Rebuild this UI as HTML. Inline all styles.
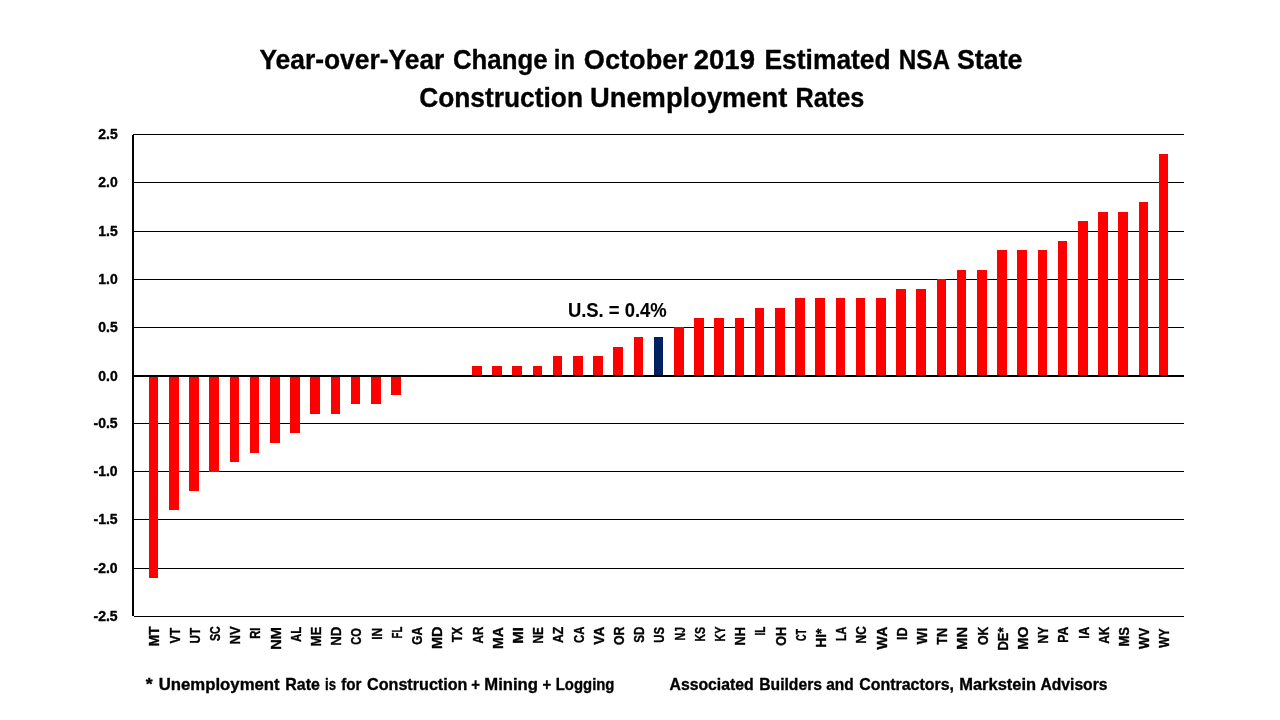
<!DOCTYPE html>
<html><head><meta charset="utf-8"><title>Year-over-Year Change in October 2019 Estimated NSA State Construction Unemployment Rates</title>
<style>
html,body{margin:0;padding:0;background:#fff;}
body{width:1280px;height:720px;overflow:hidden;font-family:"Liberation Sans",sans-serif;}
svg{display:block;}
svg text{font-family:"Liberation Sans",sans-serif;font-weight:bold;stroke:#000;stroke-width:0.35px;stroke-linejoin:round;}
</style></head>
<body>
<svg width="1280" height="720" viewBox="0 0 1280 720">
<defs><mask id="m"><rect width="1280" height="720" fill="#fff"/></mask></defs>
<rect width="1280" height="720" fill="#fff"/>
<g id="grid">
<rect x="133" y="134" width="1051" height="1" fill="#000"/>
<rect x="134" y="182" width="1050" height="1" fill="#000"/>
<rect x="134" y="231" width="1050" height="1" fill="#000"/>
<rect x="134" y="279" width="1050" height="1" fill="#000"/>
<rect x="134" y="327" width="1050" height="1" fill="#000"/>
<rect x="134" y="423" width="1050" height="1" fill="#000"/>
<rect x="134" y="471" width="1050" height="1" fill="#000"/>
<rect x="134" y="519" width="1050" height="1" fill="#000"/>
<rect x="134" y="568" width="1050" height="1" fill="#000"/>
<rect x="134" y="616" width="1050" height="1" fill="#000"/>
</g>
<g id="bars">
<rect x="149" y="376" width="9" height="202" fill="#ff0000"/>
<rect x="169" y="376" width="10" height="134" fill="#ff0000"/>
<rect x="189" y="376" width="10" height="115" fill="#ff0000"/>
<rect x="209" y="376" width="10" height="96" fill="#ff0000"/>
<rect x="230" y="376" width="9" height="86" fill="#ff0000"/>
<rect x="250" y="376" width="9" height="77" fill="#ff0000"/>
<rect x="270" y="376" width="10" height="67" fill="#ff0000"/>
<rect x="290" y="376" width="10" height="57" fill="#ff0000"/>
<rect x="310" y="376" width="10" height="38" fill="#ff0000"/>
<rect x="331" y="376" width="9" height="38" fill="#ff0000"/>
<rect x="351" y="376" width="9" height="28" fill="#ff0000"/>
<rect x="371" y="376" width="10" height="28" fill="#ff0000"/>
<rect x="391" y="376" width="10" height="19" fill="#ff0000"/>
<rect x="472" y="366" width="10" height="10" fill="#ff0000"/>
<rect x="492" y="366" width="10" height="10" fill="#ff0000"/>
<rect x="512" y="366" width="10" height="10" fill="#ff0000"/>
<rect x="533" y="366" width="9" height="10" fill="#ff0000"/>
<rect x="553" y="356" width="9" height="20" fill="#ff0000"/>
<rect x="573" y="356" width="10" height="20" fill="#ff0000"/>
<rect x="593" y="356" width="10" height="20" fill="#ff0000"/>
<rect x="613" y="347" width="10" height="29" fill="#ff0000"/>
<rect x="634" y="337" width="9" height="39" fill="#ff0000"/>
<rect x="654" y="337" width="9" height="39" fill="#002060"/>
<rect x="674" y="327" width="10" height="49" fill="#ff0000"/>
<rect x="694" y="318" width="10" height="58" fill="#ff0000"/>
<rect x="714" y="318" width="10" height="58" fill="#ff0000"/>
<rect x="735" y="318" width="9" height="58" fill="#ff0000"/>
<rect x="755" y="308" width="9" height="68" fill="#ff0000"/>
<rect x="775" y="308" width="10" height="68" fill="#ff0000"/>
<rect x="795" y="298" width="10" height="78" fill="#ff0000"/>
<rect x="815" y="298" width="10" height="78" fill="#ff0000"/>
<rect x="836" y="298" width="9" height="78" fill="#ff0000"/>
<rect x="856" y="298" width="9" height="78" fill="#ff0000"/>
<rect x="876" y="298" width="10" height="78" fill="#ff0000"/>
<rect x="896" y="289" width="10" height="87" fill="#ff0000"/>
<rect x="916" y="289" width="10" height="87" fill="#ff0000"/>
<rect x="937" y="279" width="9" height="97" fill="#ff0000"/>
<rect x="957" y="270" width="9" height="106" fill="#ff0000"/>
<rect x="977" y="270" width="10" height="106" fill="#ff0000"/>
<rect x="997" y="250" width="10" height="126" fill="#ff0000"/>
<rect x="1017" y="250" width="10" height="126" fill="#ff0000"/>
<rect x="1038" y="250" width="9" height="126" fill="#ff0000"/>
<rect x="1058" y="241" width="9" height="135" fill="#ff0000"/>
<rect x="1078" y="221" width="10" height="155" fill="#ff0000"/>
<rect x="1098" y="212" width="10" height="164" fill="#ff0000"/>
<rect x="1118" y="212" width="10" height="164" fill="#ff0000"/>
<rect x="1139" y="202" width="9" height="174" fill="#ff0000"/>
<rect x="1159" y="154" width="9" height="222" fill="#ff0000"/>
</g>
<g id="axes">
<rect x="132" y="135" width="2" height="481" fill="#000"/>
<rect x="133" y="375" width="1051" height="2" fill="#000"/>
</g>
<g id="labels" mask="url(#m)">
<text transform="translate(259.40 69.00) scale(0.9447 1)" font-size="27.97">Year-over-Year</text>
<text transform="translate(453.00 69.00) scale(0.9218 1)" font-size="27.97">Change</text>
<text transform="translate(553.75 69.00) scale(0.8536 1)" font-size="27.97">in</text>
<text transform="translate(583.75 69.00) scale(0.9719 1)" font-size="27.97">October</text>
<text transform="translate(693.75 69.00) scale(0.9842 1)" font-size="27.97">2019</text>
<text transform="translate(764.50 69.00) scale(0.9443 1)" font-size="27.97">Estimated</text>
<text transform="translate(898.75 69.00) scale(0.8684 1)" font-size="27.97">NSA</text>
<text transform="translate(957.00 69.00) scale(0.9578 1)" font-size="27.97">State</text>
<text transform="translate(419.20 107.00) scale(0.9415 1)" font-size="27.97">Construction</text>
<text transform="translate(590.00 107.00) scale(0.9773 1)" font-size="27.97">Unemployment</text>
<text transform="translate(795.50 107.00) scale(0.9020 1)" font-size="27.97">Rates</text>
<text transform="translate(145.70 689.75) scale(1.0851 1)" font-size="16.30">*</text>
<text transform="translate(158.75 689.75) scale(1.0272 1)" font-size="16.30">Unemployment</text>
<text transform="translate(285.30 689.75) scale(0.9779 1)" font-size="16.30">Rate</text>
<text transform="translate(325.00 689.75) scale(0.8080 1)" font-size="16.30">is</text>
<text transform="translate(341.20 689.75) scale(0.9326 1)" font-size="16.30">for</text>
<text transform="translate(367.00 689.75) scale(0.9910 1)" font-size="16.30">Construction</text>
<text transform="translate(471.25 689.75) scale(0.9174 1)" font-size="16.30">+</text>
<text transform="translate(484.25 689.75) scale(1.0238 1)" font-size="16.30">Mining</text>
<text transform="translate(542.50 689.75) scale(0.9174 1)" font-size="16.30">+</text>
<text transform="translate(555.75 689.75) scale(0.9134 1)" font-size="16.30">Logging</text>
<text transform="translate(669.50 689.75) scale(0.9686 1)" font-size="16.30">Associated</text>
<text transform="translate(759.25 689.75) scale(0.9622 1)" font-size="16.30">Builders</text>
<text transform="translate(826.25 689.75) scale(0.9476 1)" font-size="16.30">and</text>
<text transform="translate(859.25 689.75) scale(0.9775 1)" font-size="16.30">Contractors,</text>
<text transform="translate(959.25 689.75) scale(1.0113 1)" font-size="16.30">Markstein</text>
<text transform="translate(1040.50 689.75) scale(0.9601 1)" font-size="16.30">Advisors</text>
<text transform="translate(567.90 317.00) scale(0.9151 1)" font-size="20.14" style="stroke-width:0.1px">U.S. = 0.4%</text>
<text transform="translate(98.30 139.25) scale(1.0072 1)" font-size="13.86">2.5</text>
<text transform="translate(98.30 187.25) scale(1.0072 1)" font-size="13.86">2.0</text>
<text transform="translate(98.30 236.25) scale(1.0072 1)" font-size="13.86">1.5</text>
<text transform="translate(98.30 284.25) scale(1.0072 1)" font-size="13.86">1.0</text>
<text transform="translate(98.30 332.25) scale(1.0072 1)" font-size="13.86">0.5</text>
<text transform="translate(98.30 380.75) scale(1.0072 1)" font-size="13.86">0.0</text>
<text transform="translate(93.50 428.25) scale(1.0124 1)" font-size="13.86">-0.5</text>
<text transform="translate(93.50 476.25) scale(1.0124 1)" font-size="13.86">-1.0</text>
<text transform="translate(93.50 524.25) scale(1.0124 1)" font-size="13.86">-1.5</text>
<text transform="translate(93.50 573.25) scale(1.0124 1)" font-size="13.86">-2.0</text>
<text transform="translate(93.50 621.25) scale(1.0124 1)" font-size="13.86">-2.5</text>
</g>
<g id="xlabels" mask="url(#m)">
<text transform="translate(159.30 646.60) rotate(-90) scale(0.9717 1)" font-size="14.49">MT</text>
<text transform="translate(179.50 643.40) rotate(-90) scale(0.8409 1)" font-size="14.49">VT</text>
<text transform="translate(199.70 643.40) rotate(-90) scale(0.8063 1)" font-size="14.49">UT</text>
<text transform="translate(219.90 641.10) rotate(-90) scale(0.7372 1)" font-size="14.49">SC</text>
<text transform="translate(240.10 644.50) rotate(-90) scale(0.9059 1)" font-size="14.49">NV</text>
<text transform="translate(260.30 638.75) rotate(-90) scale(0.7762 1)" font-size="14.49">RI</text>
<text transform="translate(280.50 649.70) rotate(-90) scale(1.0073 1)" font-size="14.49">NM</text>
<text transform="translate(300.70 641.90) rotate(-90) scale(0.7908 1)" font-size="14.49">AL</text>
<text transform="translate(320.90 646.60) rotate(-90) scale(0.9200 1)" font-size="14.49">ME</text>
<text transform="translate(341.10 645.80) rotate(-90) scale(0.9168 1)" font-size="14.49">ND</text>
<text transform="translate(361.30 644.70) rotate(-90) scale(0.7636 1)" font-size="14.49">CO</text>
<text transform="translate(381.50 639.80) rotate(-90) scale(0.8280 1)" font-size="14.49">IN</text>
<text transform="translate(401.70 638.40) rotate(-90) scale(0.6674 1)" font-size="14.49">FL</text>
<text transform="translate(421.90 644.70) rotate(-90) scale(0.8142 1)" font-size="14.49">GA</text>
<text transform="translate(442.10 648.90) rotate(-90) scale(0.9895 1)" font-size="14.49">MD</text>
<text transform="translate(462.30 642.30) rotate(-90) scale(0.8248 1)" font-size="14.49">TX</text>
<text transform="translate(482.50 643.40) rotate(-90) scale(0.8022 1)" font-size="14.49">AR</text>
<text transform="translate(502.70 648.90) rotate(-90) scale(0.9718 1)" font-size="14.49">MA</text>
<text transform="translate(522.90 643.75) rotate(-90) scale(1.0412 1)" font-size="14.49">MI</text>
<text transform="translate(543.10 643.40) rotate(-90) scale(0.8141 1)" font-size="14.49">NE</text>
<text transform="translate(563.30 643.10) rotate(-90) scale(0.8528 1)" font-size="14.49">AZ</text>
<text transform="translate(583.50 643.10) rotate(-90) scale(0.7879 1)" font-size="14.49">CA</text>
<text transform="translate(603.70 644.70) rotate(-90) scale(0.9497 1)" font-size="14.49">VA</text>
<text transform="translate(623.90 645.00) rotate(-90) scale(0.8464 1)" font-size="14.49">OR</text>
<text transform="translate(644.10 642.70) rotate(-90) scale(0.7992 1)" font-size="14.49">SD</text>
<text transform="translate(664.30 642.70) rotate(-90) scale(0.7794 1)" font-size="14.49">US</text>
<text transform="translate(684.50 640.60) rotate(-90) scale(0.7331 1)" font-size="14.49">NJ</text>
<text transform="translate(704.70 641.60) rotate(-90) scale(0.7247 1)" font-size="14.49">KS</text>
<text transform="translate(724.90 641.60) rotate(-90) scale(0.7446 1)" font-size="14.49">KY</text>
<text transform="translate(745.10 645.50) rotate(-90) scale(0.8834 1)" font-size="14.49">NH</text>
<text transform="translate(765.30 635.60) rotate(-90) scale(0.6978 1)" font-size="14.49">IL</text>
<text transform="translate(785.50 645.80) rotate(-90) scale(0.8648 1)" font-size="14.49">OH</text>
<text transform="translate(805.70 641.10) rotate(-90) scale(0.6254 1)" font-size="14.49">CT</text>
<text transform="translate(825.90 647.80) rotate(-90) scale(0.9531 1)" font-size="14.49">HI*</text>
<text transform="translate(846.10 641.10) rotate(-90) scale(0.7494 1)" font-size="14.49">LA</text>
<text transform="translate(866.30 643.40) rotate(-90) scale(0.8189 1)" font-size="14.49">NC</text>
<text transform="translate(886.50 649.40) rotate(-90) scale(0.9771 1)" font-size="14.49">WA</text>
<text transform="translate(906.70 640.00) rotate(-90) scale(0.8625 1)" font-size="14.49">ID</text>
<text transform="translate(926.90 644.20) rotate(-90) scale(0.9275 1)" font-size="14.49">WI</text>
<text transform="translate(947.10 644.70) rotate(-90) scale(0.8735 1)" font-size="14.49">TN</text>
<text transform="translate(967.30 649.70) rotate(-90) scale(1.0073 1)" font-size="14.49">MN</text>
<text transform="translate(987.50 645.00) rotate(-90) scale(0.8464 1)" font-size="14.49">OK</text>
<text transform="translate(1007.70 650.50) rotate(-90) scale(0.8916 1)" font-size="14.49">DE*</text>
<text transform="translate(1027.90 649.70) rotate(-90) scale(0.9900 1)" font-size="14.49">MO</text>
<text transform="translate(1048.10 643.40) rotate(-90) scale(0.8340 1)" font-size="14.49">NY</text>
<text transform="translate(1068.30 642.70) rotate(-90) scale(0.8448 1)" font-size="14.49">PA</text>
<text transform="translate(1088.50 638.75) rotate(-90) scale(0.8383 1)" font-size="14.49">IA</text>
<text transform="translate(1108.70 643.75) rotate(-90) scale(0.8189 1)" font-size="14.49">AK</text>
<text transform="translate(1128.90 646.60) rotate(-90) scale(0.9016 1)" font-size="14.49">MS</text>
<text transform="translate(1149.10 648.90) rotate(-90) scale(0.9043 1)" font-size="14.49">WV</text>
<text transform="translate(1169.30 647.80) rotate(-90) scale(0.8229 1)" font-size="14.49">WY</text>
</g>
</svg>
</body></html>
